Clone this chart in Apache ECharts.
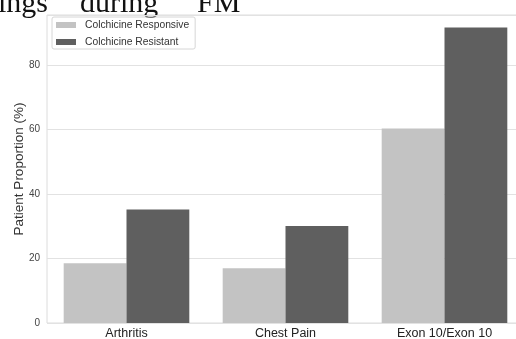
<!DOCTYPE html>
<html>
<head>
<meta charset="utf-8">
<script src="https://cdn.jsdelivr.net/npm/echarts@6/dist/echarts.min.js"></script>
<style>
  html, body { margin: 0; padding: 0; background: #fff; }
  #chart { width: 516px; height: 339px; }
</style>
</head>
<body>
<div id="chart"></div>
<script>
// Share of patients by finding, split by colchicine response
const categories = ['Arthritis', 'Chest Pain', 'Exon 10/Exon 10'];
const responsive = [18.5, 17.0, 60.3];
const resistant = [35.2, 30.1, 91.6];
const yTicks = [0, 20, 40, 60, 80];

const chart = echarts.init(document.getElementById('chart'), null, { renderer: 'canvas' });

const serif = '"Liberation Serif", "DejaVu Serif", serif';
const sans = '"Liberation Sans", Arial, sans-serif';

chart.setOption({
  backgroundColor: '#ffffff',
  animation: false,
  graphic: [
    { type: 'text', left: -2, top: -11, style: { text: 'ings', font: '30px ' + serif, fill: '#111' } },
    { type: 'text', left: 80, top: -11, style: { text: 'during', font: '30px ' + serif, fill: '#111' } },
    { type: 'text', left: 197, top: -11, style: { text: 'FM', font: '30px ' + serif, fill: '#111' } }
  ],
  legend: {
    orient: 'vertical',
    left: 52,
    top: 17,
    padding: [3, 6, 2, 4],
    itemWidth: 20,
    itemHeight: 6,
    itemGap: 7,
    borderColor: '#d6d6d6',
    borderWidth: 1,
    borderRadius: 2,
    icon: 'rect',
    textStyle: { fontFamily: sans, fontSize: 10.3, color: '#333', padding: [0, 0, 0, 4] },
    data: ['Colchicine Responsive', 'Colchicine Resistant']
  },
  grid: {
    left: 47,
    top: 15,
    width: 477,
    height: 308,
    outerBoundsMode: 'none',
    show: true,
    borderColor: '#dcdcdc',
    borderWidth: 1,
    containLabel: false
  },
  xAxis: {
    type: 'category',
    data: categories,
    axisLine: { show: false },
    axisTick: { show: false },
    axisLabel: { fontFamily: sans, fontSize: 12.5, color: '#222', margin: 4 },
    splitLine: { show: false }
  },
  yAxis: {
    type: 'value',
    min: 0,
    max: 95.5,
    interval: 20,
    name: 'Patient Proportion (%)',
    nameLocation: 'middle',
    nameGap: 21,
    nameMoveOverlap: false,
    nameTextStyle: { fontFamily: sans, fontSize: 13.5, color: '#333' },
    axisLine: { show: false },
    axisTick: { show: false },
    axisLabel: {
      fontFamily: sans, fontSize: 10, color: '#444', margin: 7,
      formatter: v => (yTicks.indexOf(v) >= 0 ? String(v) : '')
    },
    splitLine: { lineStyle: { color: '#e2e2e2', width: 1 } }
  },
  series: [
    {
      name: 'Colchicine Responsive',
      type: 'bar',
      data: responsive,
      barGap: '0%',
      barCategoryGap: '21%',
      itemStyle: { color: '#c3c3c3' }
    },
    {
      name: 'Colchicine Resistant',
      type: 'bar',
      data: resistant,
      barGap: '0%',
      barCategoryGap: '21%',
      itemStyle: { color: '#5f5f5f' }
    }
  ]
});
</script>
</body>
</html>
